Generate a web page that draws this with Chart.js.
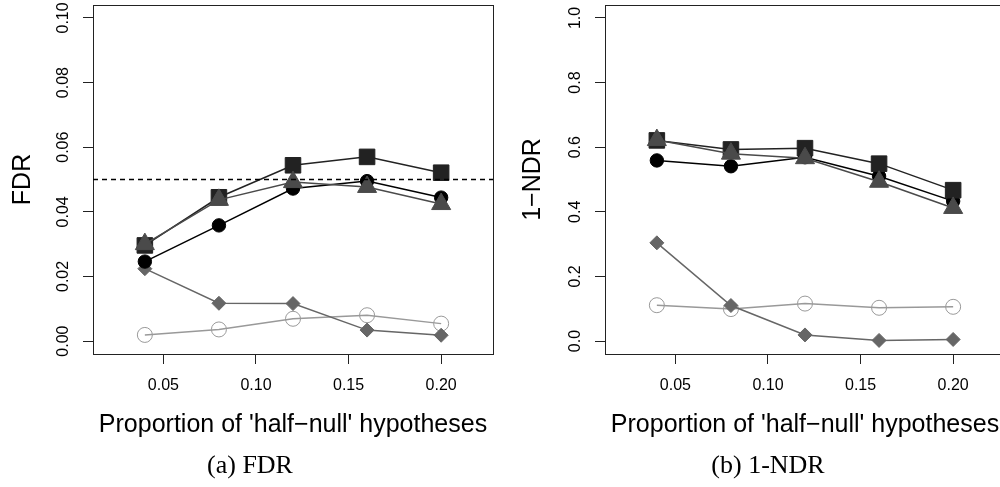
<!DOCTYPE html>
<html>
<head>
  <title>FDR / 1-NDR</title>
  <script src="https://cdn.jsdelivr.net/npm/chart.js"></script>
  <style>
    body { margin: 0; width: 1000px; height: 487px; overflow: hidden; background: #fff; position: relative; }
    .panel { position: absolute; top: 0; height: 487px; overflow: hidden; }
    .cap { position: absolute; top: 449px; width: 240px; text-align: center;
           font-family: "Liberation Serif", serif; font-size: 26px; line-height: 32px; color: #000; }
  </style>
</head>
<body>
  <div class="panel" style="left:0;width:500px"><canvas id="fdr" width="500" height="487"></canvas></div>
  <div class="panel" style="left:500px;width:500px"><canvas id="ndr" width="512" height="487"></canvas></div>
  <div class="cap" style="left:130px">(a) FDR</div>
  <div class="cap" style="left:648px">(b) 1-NDR</div>

  <script>
    // proportion of 'half-null' hypotheses
    const props = [0.04, 0.08, 0.12, 0.16, 0.20];
    const xTicks = [0.05, 0.10, 0.15, 0.20];
    const xTickLabels = ['0.05', '0.10', '0.15', '0.20'];

    // (a) FDR
    const fdrCircle   = [0.0246, 0.0358, 0.0472, 0.0495, 0.0444];
    const fdrSquare   = [0.0296, 0.0445, 0.0544, 0.0570, 0.0521];
    const fdrTriangle = [0.0300, 0.0437, 0.0492, 0.0477, 0.0424];
    const fdrDiamond  = [0.0224, 0.0117, 0.0116, 0.0034, 0.0018];
    const fdrOpen     = [0.0019, 0.0036, 0.0069, 0.0080, 0.0054];
    const fdrTicks = [0, 0.02, 0.04, 0.06, 0.08, 0.10];
    const fdrTickLabels = ['0.00', '0.02', '0.04', '0.06', '0.08', '0.10'];
    const fdrLevel = 0.05;

    // (b) 1-NDR
    const ndrCircle   = [0.559, 0.541, 0.569, 0.510, 0.433];
    const ndrSquare   = [0.621, 0.593, 0.597, 0.549, 0.467];
    const ndrTriangle = [0.622, 0.580, 0.566, 0.493, 0.412];
    const ndrDiamond  = [0.304, 0.110, 0.019, 0.002, 0.005];
    const ndrOpen     = [0.111, 0.099, 0.116, 0.103, 0.106];
    const ndrTicks = [0, 0.2, 0.4, 0.6, 0.8, 1.0];
    const ndrTickLabels = ['0.0', '0.2', '0.4', '0.6', '0.8', '1.0'];

    const pts = ys => props.map((x, i) => ({ x, y: ys[i] }));

    // first dataset is drawn on top
    function series(tri, sq, circ, dia, open) {
      return [
        { data: pts(tri),  borderColor: '#4a4a4a', pointBackgroundColor: '#4a4a4a', pointStyle: 'triangle', pointRadius: 11 },
        { data: pts(sq),   borderColor: '#222', pointBackgroundColor: '#222', pointStyle: 'rect', pointRadius: 11 },
        { data: pts(circ), borderColor: '#000', pointBackgroundColor: '#000', pointStyle: 'circle', pointRadius: 6.7 },
        { data: pts(dia),  borderColor: '#666', pointBackgroundColor: '#666', pointStyle: 'rectRot', pointRadius: 7 },
        { data: pts(open), borderColor: '#999', pointBackgroundColor: 'rgba(0,0,0,0)', pointStyle: 'circle', pointRadius: 7.5 }
      ].map(d => Object.assign(d, { borderWidth: 1.5, pointBorderColor: d.borderColor, pointBorderWidth: 1 }));
    }

    // R-style box round the plot region, plus the dashed reference level
    const boxPlugin = {
      id: 'box',
      afterDraw(chart) {
        const { ctx, chartArea: a } = chart;
        ctx.save();
        ctx.strokeStyle = '#222';
        ctx.lineWidth = 1;
        ctx.strokeRect(Math.round(a.left) + 0.5, Math.round(a.top) + 0.5,
                       Math.round(a.right - a.left), Math.round(a.bottom - a.top));
        const lvl = chart.options.plugins.box.level;
        if (lvl != null) {
          const y = Math.round(chart.scales.y.getPixelForValue(lvl)) + 0.5;
          ctx.setLineDash([5, 4]);
          ctx.lineWidth = 1.3;
          ctx.strokeStyle = '#000';
          ctx.beginPath();
          ctx.moveTo(a.left, y);
          ctx.lineTo(a.right, y);
          ctx.stroke();
        }
        ctx.restore();
      }
    };

    const noPad = s => { s.paddingLeft = 0; s.paddingRight = 0; s.paddingTop = 0; s.paddingBottom = 0; };

    function makeChart(id, opts) {
      return new Chart(document.getElementById(id), {
        type: 'line',
        data: { datasets: series(...opts.data) },
        plugins: [boxPlugin],
        options: {
          responsive: false,
          animation: false,
          layout: { autoPadding: false, padding: { left: 0, top: 5, right: opts.padRight, bottom: 0 } },
          plugins: { legend: { display: false }, tooltip: { enabled: false }, box: { level: opts.level } },
          scales: {
            x: {
              type: 'linear', min: 0.012, max: 0.228,
              afterBuildTicks: s => { s.ticks = xTicks.map(v => ({ value: v })); },
              afterFit: s => { s.height = 133; noPad(s); },
              grid: { drawOnChartArea: false, tickLength: 10, tickColor: '#222', tickWidth: 1 },
              border: { display: false },
              ticks: { callback: (v, i) => xTickLabels[i], color: '#000', padding: 12, minRotation: 0, maxRotation: 0,
                       font: { family: 'Liberation Sans', size: 16 } },
              title: { display: true, text: "Proportion of 'half\u2212null' hypotheses", color: '#000',
                       font: { family: 'Liberation Sans', size: 25 }, padding: { top: 0, bottom: 47 } }
            },
            y: {
              min: opts.yMin, max: opts.yMax,
              afterBuildTicks: s => { s.ticks = opts.yTicks.map(v => ({ value: v })); },
              afterFit: s => { s.width = opts.yWidth; noPad(s); },
              grid: { drawOnChartArea: false, tickLength: 10, tickColor: '#222', tickWidth: 1 },
              border: { display: false },
              ticks: { callback: (v, i) => opts.yTickLabels[i], color: '#000', crossAlign: 'center',
                       padding: opts.yPad, minRotation: 90, maxRotation: 90,
                       font: { family: 'Liberation Sans', size: 16 } },
              title: { display: true, text: opts.yTitle, color: '#000',
                       font: { family: 'Liberation Sans', size: 25 }, padding: { top: opts.yTitlePad, bottom: 0 } }
            }
          }
        }
      });
    }

    makeChart('fdr', {
      data: [fdrTriangle, fdrSquare, fdrCircle, fdrDiamond, fdrOpen],
      yMin: -0.004, yMax: 0.104, yTicks: fdrTicks, yTickLabels: fdrTickLabels,
      yTitle: 'FDR', yWidth: 93, yPad: 4, yTitlePad: 8, padRight: 7, level: fdrLevel
    });

    makeChart('ndr', {
      data: [ndrTriangle, ndrSquare, ndrCircle, ndrDiamond, ndrOpen],
      yMin: -0.04, yMax: 1.04, yTicks: ndrTicks, yTickLabels: ndrTickLabels,
      yTitle: '1\u2212NDR', yWidth: 105, yPad: 8.5, yTitlePad: 18, padRight: 7, level: null
    });
  </script>
</body>
</html>
